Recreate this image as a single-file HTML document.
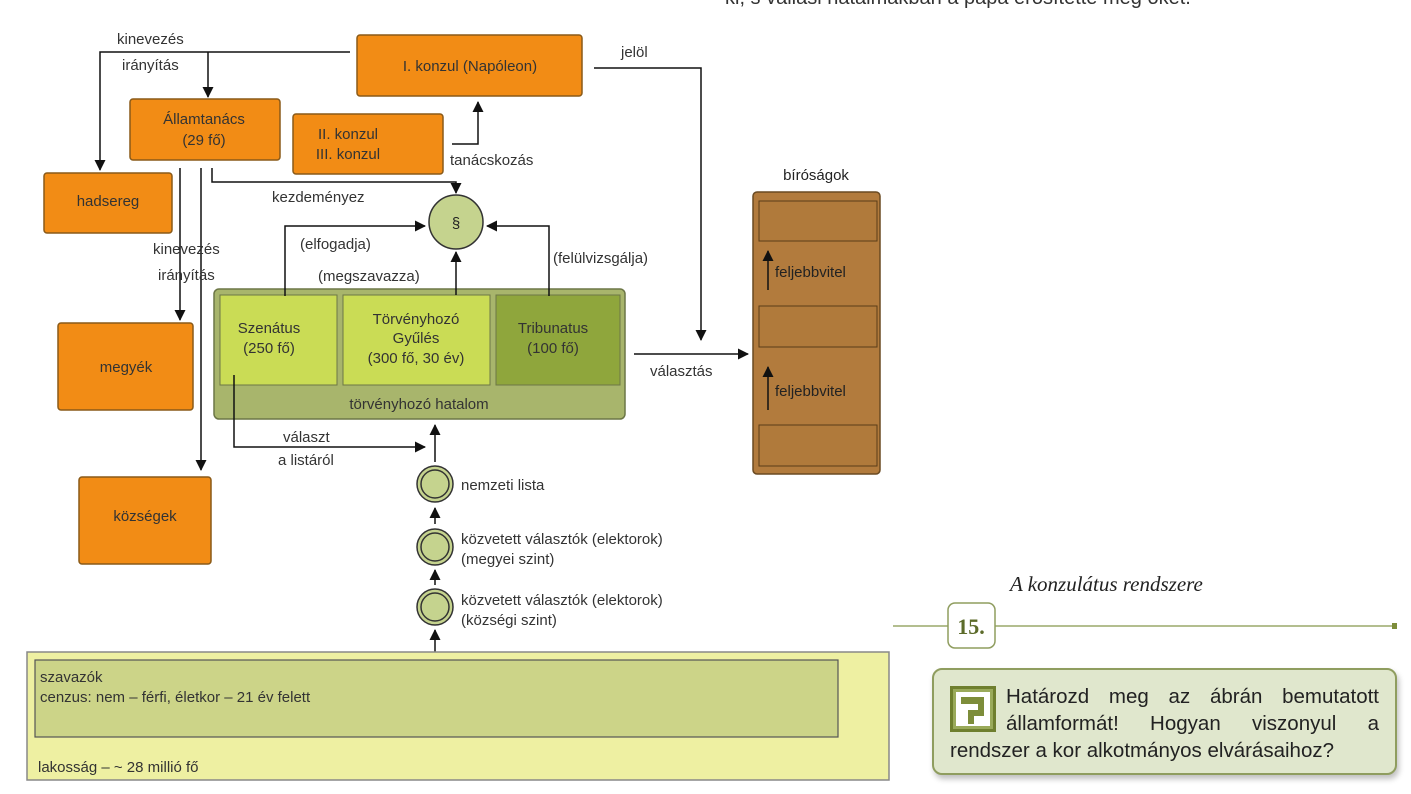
<!DOCTYPE html>
<html><head><meta charset="utf-8"><style>
body{margin:0;width:1411px;height:794px;background:#fff;overflow:hidden;position:relative;font-family:"Liberation Sans",sans-serif}
svg.m{position:absolute;left:0;top:0}
.q{position:absolute;left:932px;top:668px;width:465px;height:107px;box-sizing:border-box;background:#e0e7cd;border:2px solid #8f9d5f;border-radius:10px;box-shadow:2px 4px 6px rgba(0,0,0,.25);padding:13px 16px 0 16px;font-size:20.5px;line-height:27px;color:#222;text-align:justify}
.ic{float:left;width:46px;height:46px;margin:3px 10px 0 0}
</style></head><body>
<svg class="m" width="1411" height="794" font-family="Liberation Sans, sans-serif" font-size="15" fill="#222">
<defs><marker id="a" markerWidth="11" markerHeight="11" refX="10" refY="5.5" orient="auto" markerUnits="userSpaceOnUse"><path d="M0,0 L11,5.5 L0,11 Z" fill="#111"/></marker></defs>
<text x="725" y="4" font-size="20" fill="#333">ki, s vallási hatalmakban a pápa erősítette meg őket.</text>
<g stroke="#8a5a18" stroke-width="1.5" fill="#f28c15">
<rect x="357" y="35" width="225" height="61" rx="3"/>
<rect x="130" y="99" width="150" height="61" rx="3"/>
<rect x="293" y="114" width="150" height="60" rx="3"/>
<rect x="44" y="173" width="128" height="60" rx="3"/>
<rect x="58" y="323" width="135" height="87" rx="3"/>
<rect x="79" y="477" width="132" height="87" rx="3"/>
</g>
<g font-size="15" text-anchor="middle" fill="#333">
<text x="470" y="71">I. konzul (Napóleon)</text>
<text x="204" y="124">Államtanács</text><text x="204" y="145">(29 fő)</text>
<text x="348" y="139">II. konzul</text><text x="348" y="159">III.  konzul</text>
<text x="108" y="206">hadsereg</text>
<text x="126" y="372">megyék</text>
<text x="145" y="521">községek</text>
</g>
<rect x="214" y="289" width="411" height="130" rx="5" fill="#a8b56c" stroke="#6c7646" stroke-width="1.5"/>
<rect x="220" y="295" width="117" height="90" fill="#cadc55" stroke="#6c7646"/>
<rect x="343" y="295" width="147" height="90" fill="#cadc55" stroke="#6c7646"/>
<rect x="496" y="295" width="124" height="90" fill="#8fa63c" stroke="#6c7646"/>
<g text-anchor="middle" fill="#333">
<text x="269" y="333">Szenátus</text><text x="269" y="353">(250 fő)</text>
<text x="416" y="324">Törvényhozó</text><text x="416" y="343">Gyűlés</text><text x="416" y="363">(300 fő, 30 év)</text>
<text x="553" y="333">Tribunatus</text><text x="553" y="353">(100 fő)</text>
<text x="419" y="409">törvényhozó hatalom</text>
</g>
<circle cx="456" cy="222" r="27" fill="#c5d38e" stroke="#333" stroke-width="1.5"/>
<text x="456" y="228" text-anchor="middle">§</text>
<rect x="753" y="192" width="127" height="282" rx="4" fill="#b27b3d" stroke="#6a4a22" stroke-width="1.5"/>
<g fill="#b07a3b" stroke="#5a3c18"><rect x="759" y="201" width="118" height="40"/><rect x="759" y="306" width="118" height="41"/><rect x="759" y="425" width="118" height="41"/></g>
<text x="816" y="180" text-anchor="middle">bíróságok</text>
<text x="775" y="277">feljebbvitel</text><text x="775" y="396">feljebbvitel</text>
<g stroke="#111" stroke-width="1.5" fill="none">
<line x1="768" y1="290" x2="768" y2="251" marker-end="url(#a)"/>
<line x1="768" y1="410" x2="768" y2="367" marker-end="url(#a)"/>
<polyline points="350,52 100,52 100,170" marker-end="url(#a)"/>
<polyline points="208,52 208,97" marker-end="url(#a)"/>
<line x1="180" y1="168" x2="180" y2="320" marker-end="url(#a)"/>
<line x1="201" y1="168" x2="201" y2="470" marker-end="url(#a)"/>
<polyline points="212,168 212,182 456,182 456,193" marker-end="url(#a)"/>
<polyline points="452,144 478,144 478,102" marker-end="url(#a)"/>
<polyline points="594,68 701,68 701,340" marker-end="url(#a)"/>
<polyline points="285,296 285,226 425,226" marker-end="url(#a)"/>
<line x1="456" y1="295" x2="456" y2="252" marker-end="url(#a)"/>
<polyline points="549,296 549,226 487,226" marker-end="url(#a)"/>
<line x1="634" y1="354" x2="748" y2="354" marker-end="url(#a)"/>
<polyline points="234,375 234,447 425,447" marker-end="url(#a)"/>
<line x1="435" y1="462" x2="435" y2="425" marker-end="url(#a)"/>
<line x1="435" y1="524" x2="435" y2="508" marker-end="url(#a)"/>
<line x1="435" y1="585" x2="435" y2="570" marker-end="url(#a)"/>
<line x1="435" y1="668" x2="435" y2="630" marker-end="url(#a)"/>
</g>
<g font-size="15" fill="#333">
<text x="117" y="44">kinevezés</text><text x="122" y="70">irányítás</text>
<text x="153" y="254">kinevezés</text><text x="158" y="280">irányítás</text>
<text x="272" y="202">kezdeményez</text>
<text x="450" y="165">tanácskozás</text>
<text x="621" y="57">jelöl</text>
<text x="300" y="249">(elfogadja)</text>
<text x="318" y="281">(megszavazza)</text>
<text x="553" y="263">(felülvizsgálja)</text>
<text x="650" y="376">választás</text>
<text x="283" y="442">választ</text><text x="278" y="465">a listáról</text>
<text x="461" y="490">nemzeti lista</text>
<text x="461" y="544">közvetett választók (elektorok)</text><text x="461" y="564">(megyei szint)</text>
<text x="461" y="605">közvetett választók (elektorok)</text><text x="461" y="625">(községi szint)</text>
</g>
<g fill="#c5d38e" stroke="#333" stroke-width="1.5">
<circle cx="435" cy="484" r="18"/><circle cx="435" cy="484" r="14"/>
<circle cx="435" cy="547" r="18"/><circle cx="435" cy="547" r="14"/>
<circle cx="435" cy="607" r="18"/><circle cx="435" cy="607" r="14"/>
</g>
<rect x="27" y="652" width="862" height="128" fill="#eef0a2" stroke="#888" stroke-width="1.5"/>
<rect x="35" y="660" width="803" height="77" fill="#ccd488" stroke="#555" stroke-width="1.2"/>
<text x="40" y="682" fill="#333">szavazók</text>
<text x="40" y="702" fill="#333">cenzus: nem – férfi, életkor – 21 év felett</text>
<text x="38" y="772" fill="#333">lakosság – ~ 28 millió fő</text>
<text x="1010" y="591" font-family="Liberation Serif, serif" font-style="italic" font-size="21" fill="#222">A konzulátus rendszere</text>
<line x1="893" y1="626" x2="1395" y2="626" stroke="#9aa86a" stroke-width="1.5"/>
<rect x="1392" y="623" width="5" height="6" fill="#7d8d3a"/>
<rect x="948" y="603" width="47" height="45" rx="7" fill="#fff" stroke="#8f9d5f" stroke-width="1.5"/>
<text x="971" y="634" text-anchor="middle" font-family="Liberation Serif, serif" font-weight="bold" font-size="22" fill="#5c6b2a">15.</text>
</svg>
<div class="q"><svg class="ic" viewBox="0 0 46 46"><rect x="0" y="0" width="46" height="46" fill="#6f7f2e"/><rect x="3" y="3" width="40" height="40" fill="#9aaa5a"/><rect x="6" y="6" width="34" height="34" fill="#fff"/><path d="M11,11 H34 V30 H24 V38 H18 V24 H28 V18 H11 Z" fill="#7d8d3a"/></svg>Határozd meg az ábrán bemutatott államformát! Hogyan viszonyul a rendszer a kor alkotmányos elvárásaihoz?</div>
</body></html>
